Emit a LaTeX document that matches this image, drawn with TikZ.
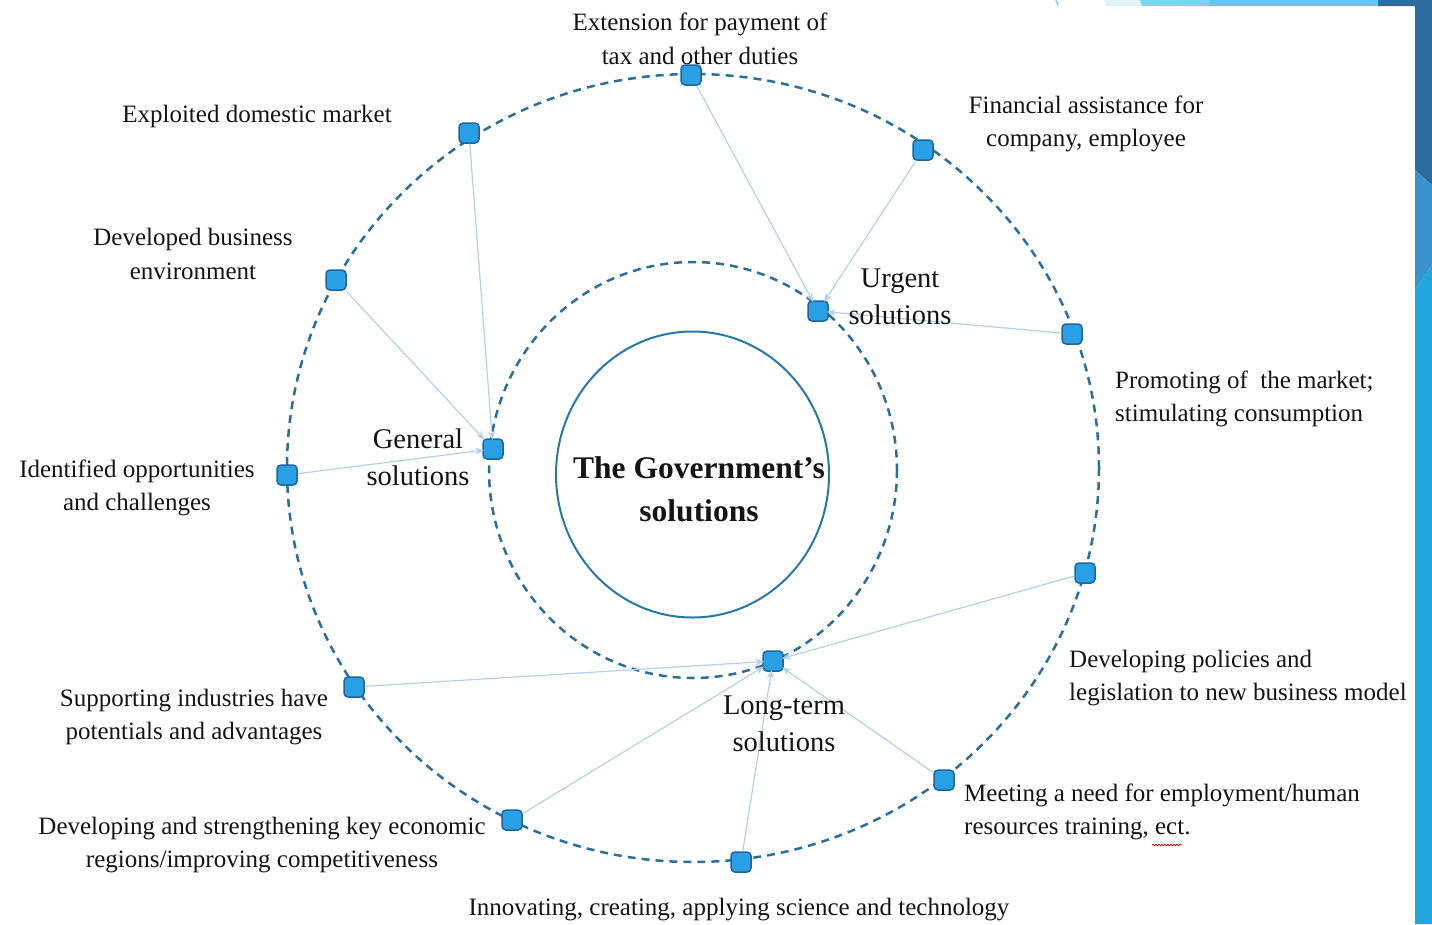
\documentclass[tikz,border=0pt]{standalone}
\usepackage{fontspec}
\setmainfont{Liberation Serif}
\usetikzlibrary{arrows.meta,decorations.pathmorphing,shapes.geometric}
\definecolor{ringc}{RGB}{42,110,158}
\definecolor{corec}{RGB}{38,120,170}
\definecolor{sqfill}{RGB}{42,160,228}
\definecolor{sqborder}{RGB}{30,100,160}
\definecolor{connc}{RGB}{178,208,238}
\definecolor{txt}{RGB}{20,20,20}
\definecolor{bgdark}{RGB}{43,107,156}
\definecolor{bgmid}{RGB}{58,146,204}
\definecolor{bgbright}{RGB}{31,166,221}
\definecolor{bgtopa}{RGB}{223,243,251}
\definecolor{bgtopb}{RGB}{126,212,240}
\definecolor{bgtopc}{RGB}{96,201,238}
\definecolor{bgtopd}{RGB}{46,114,162}
\begin{document}
\begin{tikzpicture}[x=1pt,y=-1pt,
  sq/.style={draw=sqborder, fill=sqfill, line width=1.5pt, rounded corners=4pt, minimum size=20pt, inner sep=0pt},
  lbl/.style={font=\fontsize{25}{33.5}\selectfont, text=txt, inner sep=0pt, align=center},
  lbll/.style={lbl, align=left, anchor=west},
  inlbl/.style={font=\fontsize{28.5}{37}\selectfont, text=txt, inner sep=0pt, align=center},
  conn/.style={draw=connc, line width=1.2pt, -{Stealth[length=9pt,width=7pt]}, shorten >=-2pt},
  ring/.style={draw=ringc, line width=2.5pt, dash pattern=on 8pt off 6pt}]
\useasboundingbox (0,0) rectangle (1432,924);
% background decoration
\fill[bgdark] (1378,0) -- (1432,0) -- (1432,185) -- (1415,170) -- (1415,6) -- (1378,6) -- cycle;
\fill[bgmid] (1415,170) -- (1432,185) -- (1432,265) -- (1415,290) -- cycle;
\fill[bgbright] (1415,290) -- (1432,265) -- (1432,924) -- (1415,924) -- cycle;
\fill[bgtopa] (1104,0) -- (1140,0) -- (1142,6) -- (1106,6) -- cycle;
\fill[bgtopb] (1140,0) -- (1210,0) -- (1208,6) -- (1142,6) -- cycle;
\fill[bgtopc] (1210,0) -- (1378,0) -- (1378,6) -- (1208,6) -- cycle;
\draw[bgtopb, line width=1.5pt] (1056,0) -- (1058,6);
% rings
\draw[ring] (693,468) ellipse [x radius=406, y radius=394];
\draw[ring] (693,470) ellipse [x radius=204, y radius=208];
\node[draw=corec, line width=2pt, ellipse, minimum width=273pt, minimum height=286pt, inner sep=0pt] (core) at (692.5,474.5) {};
\node[font=\fontsize{31.5}{43}\selectfont\bfseries, text=txt, align=center, inner sep=0pt] (title) at (699,489) {The Government’s\\solutions};
% squares
\node[sq] (ext) at (691,75) {};
\node[sq] (exp) at (469,133) {};
\node[sq] (fin) at (923,150) {};
\node[sq] (dev) at (336,280) {};
\node[sq] (pro) at (1072,334) {};
\node[sq] (ide) at (287,475) {};
\node[sq] (pol) at (1085,573) {};
\node[sq] (sup) at (354,687) {};
\node[sq] (mee) at (944,780) {};
\node[sq] (str) at (512,820) {};
\node[sq] (inn) at (741,862) {};
\node[sq] (gen) at (493,449) {};
\node[sq] (urg) at (818,311) {};
\node[sq] (lon) at (773,661) {};
% connectors
\draw[conn] (exp) -- (gen);
\draw[conn] (dev) -- (gen);
\draw[conn] (ide) -- (gen);
\draw[conn] (ext) -- (urg);
\draw[conn] (fin) -- (urg);
\draw[conn] (pro) -- (urg);
\draw[conn] (pol) -- (lon);
\draw[conn] (sup) -- (lon);
\draw[conn] (str) -- (lon);
\draw[conn] (inn) -- (lon);
\draw[conn] (mee) -- (lon);
% labels
\node[lbl] (lext) at (700,39) {Extension for payment of\\tax and other duties};
\node[lbl] (lexp) at (257,116) {Exploited domestic market};
\node[lbl] (lfin) at (1086,124) {Financial assistance for\\company, employee};
\node[lbl] (ldev) at (193,254) {Developed business\\environment};
\node[inlbl] (lurg) at (900,297) {Urgent\\solutions};
\node[inlbl] (lgen) at (418,457) {General\\solutions};
\node[inlbl] (llon) at (784,724) {Long-term\\solutions};
\node[lbll] (lpro) at (1115,399) {Promoting of~ the market;\\stimulating consumption};
\node[lbl] (lide) at (137,488) {Identified opportunities\\and challenges};
\node[lbll] (lpol) at (1069,678) {Developing policies and\\legislation to new business model};
\node[lbl] (lsup) at (194,717) {Supporting industries have\\potentials and advantages};
\node[lbll] (lmee) at (964,812) {Meeting a need for employment/human\\resources training, ect.};
\node[lbl] (lstr) at (262,845) {Developing and strengthening key economic\\regions/improving competitiveness};
\node[lbl] (linn) at (739,910) {Innovating, creating, applying science and technology};
\draw[red!80!black, line width=0.7pt, decorate, decoration={snake, amplitude=0.9pt, segment length=3pt}] (1152,845) -- (1182,845);
\end{tikzpicture}
\end{document}
